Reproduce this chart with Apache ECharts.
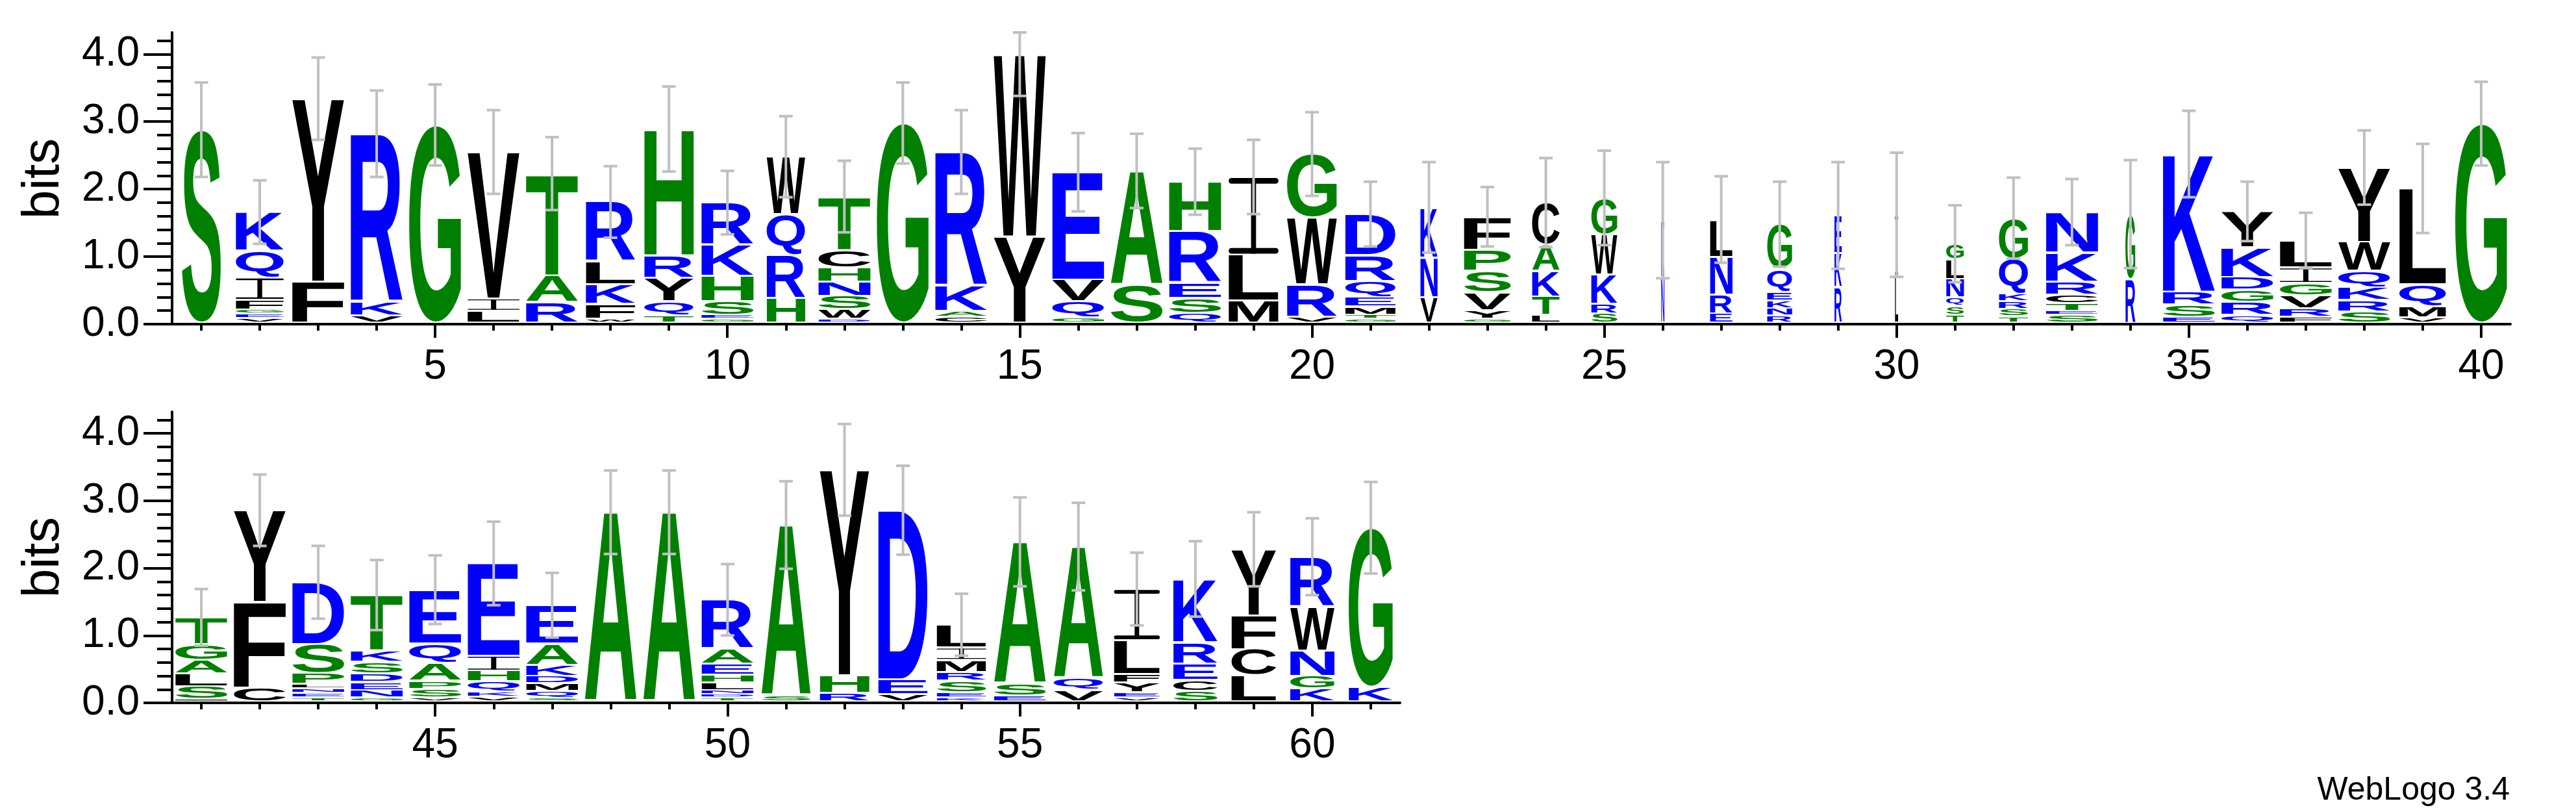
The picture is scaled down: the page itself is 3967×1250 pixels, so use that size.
<!DOCTYPE html>
<html>
<head>
<meta charset="utf-8">
<script src="https://cdn.jsdelivr.net/npm/echarts@6/dist/echarts.min.js"></script>
<style>
html, body { margin: 0; padding: 0; background: #fff; }
#chart { width: 3967px; height: 1250px; }
</style>
</head>
<body>
<div id="chart"></div>
<script>
// sequence positions
const positions = [1, 2, 3, 4, 5, 6, 7, 8, 9, 10, 11, 12, 13, 14, 15, 16, 17, 18, 19, 20,
  21, 22, 23, 24, 25, 26, 27, 28, 29, 30, 31, 32, 33, 34, 35, 36, 37, 38, 39, 40,
  41, 42, 43, 44, 45, 46, 47, 48, 49, 50, 51, 52, 53, 54, 55, 56, 57, 58, 59, 60, 61]

// residues of each stack, bottom -> top
const residues = ['S', 'VEGFIQK', 'FY', 'VKR', 'G', 'LIV', 'RAT', 'WFKLR', 'TQYRH', 'GESHKR',
  'HRQW', 'DWSNHCT', 'G', 'CAKR', 'YW', 'GQVE', 'SA', 'QSERH', 'MLI', 'VRWG',
  'GTMEQRD', 'VNK', 'GYVSPF', 'LTKAC', 'SRKWG', 'NK', 'ERNL', 'RNKEQG', 'RKE', 'LI',
  'TSQNLG', 'TSRKQG', 'SETCRKN', 'RG', 'ESRK', 'QRGDKY', 'FRVGIL', 'SRKQWY', 'VMQL', 'G',
  'ISLAGT', 'CFY', 'TENLPSD', 'GNEDSKT', 'VSPAQE', 'VKQHIE', 'SQMDKAE', 'A', 'A', 'TDNLHEAR',
  'SA', 'RHY', 'VED', 'KESRMIL', 'ESA', 'VQA', 'VEYFLI', 'SCERK', 'LCFY', 'KGNWR', 'KG']

// letter heights in bits, same order as residues
const heights = [
  [2.88], [0.09, 0.07, 0.06, 0.14, 0.33, 0.40, 0.57], [0.63, 2.71], [0.13, 0.20, 2.49], [2.95],
  [0.20, 0.18, 2.17], [0.33, 0.40, 1.50], [0.08, 0.22, 0.29, 0.34, 0.88], [0.13, 0.21, 0.35, 0.33, 1.87],
  [0.08, 0.06, 0.20, 0.38, 0.46, 0.62],
  [0.39, 0.64, 0.60, 0.85], [0.08, 0.14, 0.20, 0.21, 0.21, 0.26, 0.79], [2.98], [0.11, 0.09, 0.37, 1.98],
  [1.30, 2.69], [0.10, 0.24, 0.32, 1.59], [0.59, 1.68], [0.17, 0.22, 0.23, 0.76, 0.73], [0.35, 0.68, 1.15],
  [0.11, 0.48, 0.99, 0.94],
  [0.08, 0.06, 0.12, 0.14, 0.24, 0.38, 0.61], [0.40, 0.59, 0.74], [0.08, 0.13, 0.26, 0.32, 0.31, 0.49],
  [0.14, 0.27, 0.38, 0.39, 0.62], [0.16, 0.14, 0.44, 0.59, 0.54], [0.70, 0.84], [0.16, 0.28, 0.56, 0.55],
  [0.13, 0.11, 0.11, 0.13, 0.34, 0.66], [0.55, 0.50, 0.56], [0.70, 0.92],
  [0.14, 0.13, 0.13, 0.27, 0.29, 0.23], [0.12, 0.11, 0.11, 0.11, 0.52, 0.60],
  [0.14, 0.06, 0.11, 0.13, 0.19, 0.43, 0.60], [0.67, 0.96], [0.11, 0.18, 0.19, 2.04],
  [0.14, 0.19, 0.18, 0.19, 0.44, 0.53], [0.11, 0.13, 0.19, 0.18, 0.23, 0.40],
  [0.19, 0.17, 0.19, 0.24, 0.43, 1.10], [0.10, 0.17, 0.32, 1.42], [2.97],
  [0.06, 0.19, 0.19, 0.20, 0.23, 0.40], [0.23, 1.27, 1.36], [0.08, 0.07, 0.07, 0.06, 0.16, 0.43, 0.92],
  [0.08, 0.11, 0.12, 0.13, 0.17, 0.17, 0.82], [0.08, 0.13, 0.12, 0.26, 0.29, 0.80],
  [0.09, 0.08, 0.15, 0.16, 0.22, 1.37], [0.08, 0.10, 0.11, 0.11, 0.16, 0.32, 0.57], [2.83], [2.83],
  [0.08, 0.05, 0.06, 0.11, 0.12, 0.16, 0.23, 0.72],
  [0.11, 2.53], [0.15, 0.26, 3.05], [0.13, 0.22, 2.51], [0.08, 0.08, 0.17, 0.13, 0.18, 0.18, 0.34],
  [0.11, 0.18, 2.10], [0.19, 0.18, 1.95], [0.08, 0.08, 0.14, 0.13, 0.50, 0.76],
  [0.18, 0.16, 0.24, 0.32, 0.94], [0.41, 0.39, 0.50, 0.98], [0.21, 0.19, 0.38, 0.65, 0.74], [0.24, 2.36]
]

// error bar half widths (bits)
const errors = [0.70, 0.47, 0.61, 0.64, 0.60, 0.62, 0.54, 0.53, 0.63, 0.47,
  0.60, 0.53, 0.60, 0.62, 0.61, 0.58, 0.55, 0.49, 0.55, 0.62,
  0.48, 0.67, 0.44, 0.66, 0.70, 0.86, 0.64, 0.63, 0.79, 0.92,
  0.57, 0.60, 0.49, 0.80, 0.64, 0.44, 0.41, 0.55, 0.66, 0.62,
  0.42, 0.53, 0.54, 0.52, 0.51, 0.62, 0.48, 0.62, 0.62, 0.53,
  0.65, 0.68, 0.66, 0.46, 0.66, 0.65, 0.54, 0.56, 0.55, 0.57, 0.68]

// relative stack widths (fraction of sequences without gap)
const widths = [0.75, 0.92, 1, 1, 1, 1, 1, 0.95, 0.95, 1,
  0.74, 1, 1, 1, 1, 1, 1, 1, 0.96, 0.96,
  0.97, 0.33, 0.9, 0.53, 0.5, 0.06, 0.43, 0.48, 0.14, 0.06,
  0.34, 0.56, 1, 0.19, 1, 1, 1, 1, 0.9, 1,
  1, 1, 1, 1, 1, 1, 1, 1, 1, 1,
  0.95, 0.95, 0.95, 0.95, 1, 0.95, 0.88, 0.85, 0.86, 0.85, 0.85]

const yTicks = [0, 1, 2, 3, 4]
const yMinorTicks = [0.2, 0.4, 0.6, 0.8, 1.2, 1.4, 1.6, 1.8, 2.2, 2.4, 2.6, 2.8, 3.2, 3.4, 3.6, 3.8, 4.2]
const xLabelsTop = [5, 10, 15, 20, 25, 30, 35, 40]
const xLabelsBottom = [45, 50, 55, 60]
const YMAX = 4.32

const colors = {
  A: '#008000', G: '#008000', H: '#008000', P: '#008000', S: '#008000', T: '#008000',
  D: '#0000ff', E: '#0000ff', K: '#0000ff', N: '#0000ff', Q: '#0000ff', R: '#0000ff',
  C: '#000', F: '#000', I: '#000', L: '#000', M: '#000', V: '#000', W: '#000', Y: '#000'
}
const FONT = '"Liberation Sans", Arial, sans-serif'

// measure ink box of every glyph so it can be stretched into its slot
const metrics = {}
const ctx = document.createElement('canvas').getContext('2d')
Object.keys(colors).forEach(function (ch) {
  let font = 'bold 200px "Liberation Sans"'
  ctx.font = font
  ctx.textAlign = 'center'
  ctx.textBaseline = 'middle'
  let t = ctx.measureText(ch)
  metrics[ch] = {
    font: font,
    w: t.actualBoundingBoxLeft + t.actualBoundingBoxRight,
    h: t.actualBoundingBoxAscent + t.actualBoundingBoxDescent,
    cx: (t.actualBoundingBoxRight - t.actualBoundingBoxLeft) / 2,
    cy: (t.actualBoundingBoxDescent - t.actualBoundingBoxAscent) / 2
  }
})

// WebLogo's I has rounded cross bars and a thin stem
function glyphI(xc, top, bot, w, fill, out) {
  let h = bot - top
  let t = Math.max(1, h * 0.075)
  let sw = Math.max(1, w * 0.1)
  out.push({ type: 'rect', silent: true, shape: { x: xc - sw / 2, y: top, width: sw, height: h }, style: { fill: fill } })
  out.push({ type: 'rect', silent: true, shape: { x: xc - w / 2, y: top, width: w, height: t, r: t / 2 }, style: { fill: fill } })
  out.push({ type: 'rect', silent: true, shape: { x: xc - w / 2, y: bot - t, width: w, height: t, r: t / 2 }, style: { fill: fill } })
}

function renderStack(params, api) {
  let pos = api.value(0)
  let i = api.value(2)
  let base = api.coord([pos, 0])
  let bitPx = api.size([0, 1])[1]
  let step = api.size([1, 0])[0]
  let w = step * 0.889 * widths[i]
  let xc = base[0]
  let children = []
  let cum = 0
  let letters = residues[i]
  for (let k = 0; k < letters.length; k++) {
    let yb = base[1] - cum * bitPx
    cum += heights[i][k]
    let yt = base[1] - cum * bitPx
    let top = yt + 1.5
    let bot = yb - (k === 0 ? 4 : 1.5)
    if (bot - top < 0.6) continue
    let ch = letters[k]
    if (ch === 'I') {
      glyphI(xc, top, bot, w, colors[ch], children)
      continue
    }
    let m = metrics[ch]
    let sx = w / m.w
    let sy = (bot - top) / m.h
    children.push({
      type: 'text',
      silent: true,
      x: xc - sx * m.cx,
      y: (top + bot) / 2 - sy * m.cy,
      scaleX: sx,
      scaleY: sy,
      style: {
        text: ch, font: m.font, fill: colors[ch],
        align: 'center', verticalAlign: 'middle',
        textAlign: 'center', textVerticalAlign: 'middle'
      }
    })
  }
  // error bar round the top of the stack
  let hi = base[1] - Math.min(cum + errors[i], YMAX) * bitPx
  let lo = base[1] - (cum - errors[i]) * bitPx
  let grey = '#c0c0c0'
  children.push({ type: 'rect', silent: true, shape: { x: xc - 2, y: hi, width: 4, height: lo - hi }, style: { fill: grey } })
  children.push({ type: 'rect', silent: true, shape: { x: xc - 10.5, y: hi - 2, width: 21, height: 4 }, style: { fill: grey } })
  children.push({ type: 'rect', silent: true, shape: { x: xc - 10.5, y: lo - 2, width: 21, height: 4 }, style: { fill: grey } })
  return { type: 'group', children: children }
}

let line = { color: '#000', width: 4 }
let labelFont = { fontSize: 64, fontFamily: FONT, color: '#000' }

function xMinor(g, min, max, ticks) {
  return {
    type: 'value', gridIndex: g, min: min, max: max, position: 'bottom',
    axisLine: { show: true, onZero: false, lineStyle: line },
    axisTick: { show: true, customValues: ticks, length: 10, lineStyle: line },
    axisLabel: { show: false },
    splitLine: { show: false }
  }
}
function xMajor(g, min, max, ticks) {
  return {
    type: 'value', gridIndex: g, min: min, max: max, position: 'bottom',
    axisLine: { show: false, onZero: false },
    axisTick: { show: true, customValues: ticks, length: 21, lineStyle: line },
    axisLabel: Object.assign({ show: true, customValues: ticks, margin: 34 }, labelFont),
    splitLine: { show: false }
  }
}
function yMajor(g) {
  return {
    type: 'value', gridIndex: g, min: 0, max: YMAX, position: 'left',
    axisLine: { show: true, onZero: false, lineStyle: line },
    axisTick: { show: true, customValues: yTicks, length: 44, lineStyle: line },
    axisLabel: Object.assign({
      show: true, customValues: yTicks, margin: 50,
      formatter: function (v) { return v.toFixed(1) }
    }, labelFont),
    splitLine: { show: false }
  }
}
function yMinor(g) {
  return {
    type: 'value', gridIndex: g, min: 0, max: YMAX, position: 'left',
    axisLine: { show: false, onZero: false },
    axisTick: { show: true, customValues: yMinorTicks, length: 23, lineStyle: line },
    axisLabel: { show: false },
    splitLine: { show: false }
  }
}

let topData = []
let bottomData = []
positions.forEach(function (p, i) {
  if (p <= 40) topData.push([p, 0, i])
  else bottomData.push([p, 0, i])
})

let ch = echarts.init(document.getElementById('chart'), null, { renderer: 'canvas' })
let option = {
  animation: false,
  backgroundColor: '#fff',
  grid: [
    { left: 265, top: 50, width: 3601, height: 449, containLabel: false, outerBoundsMode: 'none' },
    { left: 265, top: 634, width: 1891, height: 448, containLabel: false, outerBoundsMode: 'none' }
  ],
  xAxis: [
    xMinor(0, 0.5, 40.5, positions.slice(0, 40)),
    xMajor(0, 0.5, 40.5, xLabelsTop),
    xMinor(1, 40.5, 61.5, positions.slice(40)),
    xMajor(1, 40.5, 61.5, xLabelsBottom)
  ],
  yAxis: [yMajor(0), yMinor(0), yMajor(1), yMinor(1)],
  graphic: [
    {
      type: 'text', x: 68, y: 275, rotation: Math.PI / 2,
      style: { text: 'bits', font: '80px ' + FONT, fill: '#000', align: 'center', verticalAlign: 'middle', textAlign: 'center', textVerticalAlign: 'middle' }
    },
    {
      type: 'text', x: 68, y: 858, rotation: Math.PI / 2,
      style: { text: 'bits', font: '80px ' + FONT, fill: '#000', align: 'center', verticalAlign: 'middle', textAlign: 'center', textVerticalAlign: 'middle' }
    },
    {
      type: 'text', x: 3865, y: 1217,
      style: { text: 'WebLogo 3.4', font: '50px ' + FONT, fill: '#000', align: 'right', verticalAlign: 'middle', textAlign: 'right', textVerticalAlign: 'middle' }
    }
  ],
  series: [
    {
      type: 'custom', xAxisIndex: 0, yAxisIndex: 0, silent: true,
      encode: { x: 0, y: 1 }, renderItem: renderStack, data: topData
    },
    {
      type: 'custom', xAxisIndex: 2, yAxisIndex: 2, silent: true,
      encode: { x: 0, y: 1 }, renderItem: renderStack, data: bottomData
    }
  ]
}
ch.setOption(option)
</script>
</body>
</html>
